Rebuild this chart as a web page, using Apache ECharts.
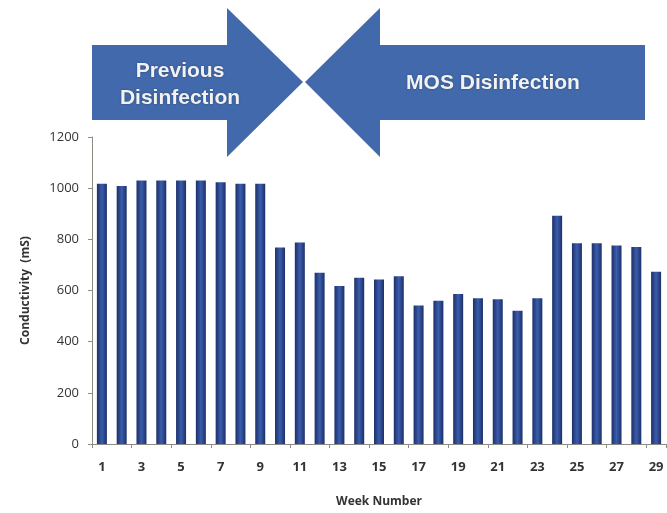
<!DOCTYPE html>
<html>
<head>
<meta charset="utf-8">
<script src="https://cdn.jsdelivr.net/npm/echarts@6/dist/echarts.min.js"></script>
<style>html,body{margin:0;padding:0;background:#fff;}#c{width:667px;height:513px;}</style>
</head>
<body>
<div id="c"></div>
<script>
const weeks = ['1','2','3','4','5','6','7','8','9','10','11','12','13','14','15','16','17','18','19','20','21','22','23','24','25','26','27','28','29'];
const conductivity = [1017,1008,1030,1030,1030,1030,1023,1017,1017,768,788,669,618,650,643,656,541,560,586,570,566,521,570,892,785,785,776,770,673];
const yTicks = [0,200,400,600,800,1000,1200];
const arrowLeftText = 'Previous\nDisinfection';
const arrowRightText = 'MOS Disinfection';

const chart = echarts.init(document.getElementById('c'));
const arrowColor = '#4169ab';
const barGrad = new echarts.graphic.LinearGradient(0,0,1,0,[
  {offset:0,color:'#1d2f6a'},{offset:0.5,color:'#3a5dab'},{offset:1,color:'#1d2f6a'}]);
chart.setOption({
  animation:false,
  grid:{left:92,right:1,top:137,bottom:68},
  xAxis:{
    type:'category', data:weeks,
    axisLine:{lineStyle:{color:'#8c8c84'}},
    axisTick:{show:true,alignWithLabel:false,length:4,lineStyle:{color:'#8c8c84'}},
    axisLabel:{interval:1,color:'#333',fontFamily:'Open Sans',fontSize:13,fontWeight:'bold',margin:17},
    name:'Week Number', nameLocation:'middle', nameGap:52,
    nameTextStyle:{color:'#333',fontFamily:'Open Sans',fontSize:12,fontWeight:'bold'}
  },
  yAxis:{
    type:'value', min:yTicks[0], max:yTicks[yTicks.length-1], interval:200,
    splitLine:{show:false},
    axisLine:{show:true,lineStyle:{color:'#8c8c84'}},
    axisTick:{show:true,length:4,lineStyle:{color:'#8c8c84'}},
    axisLabel:{color:'#333',fontFamily:'Open Sans',fontSize:13,margin:13,formatter:v=>String(v)},
    name:'Conductivity  (mS)', nameLocation:'middle', nameGap:60, nameRotate:90,
    nameTextStyle:{color:'#333',fontFamily:'Open Sans',fontSize:12,fontWeight:'bold'}
  },
  series:[{type:'bar',data:conductivity,barWidth:10,itemStyle:{color:barGrad}}],
  graphic:[
    {type:'polygon',shape:{points:[[92,45],[227,45],[227,8],[303,82],[227,157],[227,120],[92,120]]},style:{fill:arrowColor}},
    {type:'polygon',shape:{points:[[645,45],[380,45],[380,8],[305,82],[380,157],[380,120],[645,120]]},style:{fill:arrowColor}},
    {type:'text',x:180,y:85,style:{text:arrowLeftText,fill:'#f2f2f2',font:'bold 21px "Liberation Sans", Arial, sans-serif',align:'center',verticalAlign:'middle',lineHeight:27,textShadowColor:'rgba(0,0,0,0.35)',textShadowBlur:2}},
    {type:'text',x:493,y:83,style:{text:arrowRightText,fill:'#f2f2f2',font:'bold 21px "Liberation Sans", Arial, sans-serif',align:'center',verticalAlign:'middle',textShadowColor:'rgba(0,0,0,0.35)',textShadowBlur:2}}
  ]
});
</script>
</body>
</html>
